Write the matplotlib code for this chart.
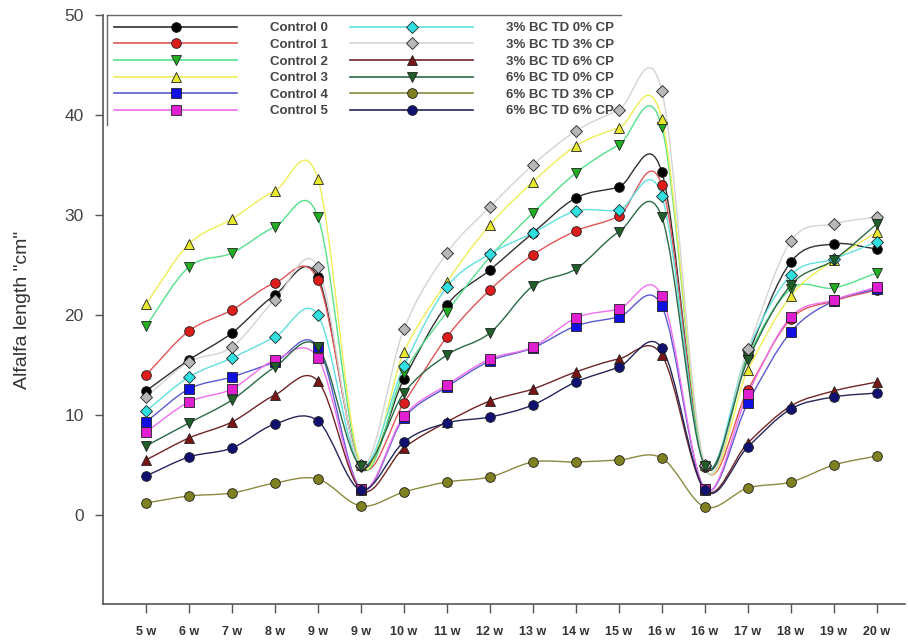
import numpy as np
import matplotlib
matplotlib.use('Agg')
import matplotlib.pyplot as plt
from matplotlib.path import Path
from matplotlib.patches import PathPatch
from matplotlib.lines import Line2D

plt.rcParams['font.family'] = ['Liberation Sans', 'DejaVu Sans']

# weeks (two sampling series, hence repeated 9 w and 16 w)
weeks = ['5 w', '6 w', '7 w', '8 w', '9 w', '9 w', '10 w', '11 w', '12 w', '13 w',
         '14 w', '15 w', '16 w', '16 w', '17 w', '18 w', '19 w', '20 w']

control0 = [12.4, 15.5, 18.2, 22.0, 23.8, 5.0, 13.6, 21.0, 24.5, 28.2, 31.7, 32.8, 34.3, 5.0, 16.0, 25.3, 27.1, 26.6]
control1 = [14.0, 18.4, 20.5, 23.2, 23.5, 4.9, 11.2, 17.8, 22.5, 26.0, 28.4, 29.9, 33.0, 4.8, 12.5, 19.6, 21.4, 22.5]
control2 = [18.9, 24.8, 26.2, 28.8, 29.8, 4.9, 14.2, 20.3, 25.8, 30.2, 34.2, 37.0, 38.8, 4.8, 15.8, 22.6, 22.7, 24.2]
control3 = [21.1, 27.1, 29.6, 32.4, 33.6, 5.0, 16.3, 23.3, 29.0, 33.3, 36.9, 38.7, 39.6, 5.0, 14.5, 21.9, 25.5, 28.3]
control4 = [9.3, 12.6, 13.8, 15.3, 16.8, 2.6, 9.7, 12.8, 15.4, 16.7, 18.9, 19.8, 20.9, 2.6, 11.2, 18.3, 21.4, 22.6]
control5 = [8.3, 11.3, 12.6, 15.5, 15.7, 2.6, 9.9, 13.0, 15.6, 16.8, 19.7, 20.6, 21.9, 2.6, 12.1, 19.8, 21.5, 22.8]
bc3_cp0 = [10.4, 13.8, 15.7, 17.8, 20.0, 4.9, 14.9, 22.8, 26.1, 28.2, 30.4, 30.5, 31.9, 4.9, 16.5, 24.0, 25.6, 27.3]
bc3_cp3 = [11.8, 15.3, 16.8, 21.5, 24.8, 5.0, 18.6, 26.2, 30.8, 35.0, 38.4, 40.5, 42.4, 5.0, 16.6, 27.4, 29.1, 29.8]
bc3_cp6 = [5.5, 7.7, 9.3, 12.0, 13.4, 2.5, 6.7, 9.3, 11.4, 12.6, 14.3, 15.6, 16.0, 2.5, 7.2, 10.9, 12.4, 13.3]
bc6_cp0 = [6.9, 9.2, 11.5, 14.8, 16.8, 4.9, 12.2, 16.0, 18.2, 22.9, 24.6, 28.3, 29.8, 4.9, 15.5, 23.0, 25.5, 29.1]
bc6_cp3 = [1.2, 1.9, 2.2, 3.2, 3.6, 0.9, 2.3, 3.3, 3.8, 5.3, 5.3, 5.5, 5.7, 0.8, 2.7, 3.3, 5.0, 5.9]
bc6_cp6 = [3.9, 5.8, 6.7, 9.1, 9.4, 2.5, 7.3, 9.2, 9.8, 11.0, 13.3, 14.8, 16.7, 2.5, 6.8, 10.6, 11.8, 12.2]

labels = ['Control 0', 'Control 1', 'Control 2', 'Control 3', 'Control 4', 'Control 5',
          '3% BC TD 0% CP', '3% BC TD 3% CP', '3% BC TD 6% CP',
          '6% BC TD 0% CP', '6% BC TD 3% CP', '6% BC TD 6% CP']
series = [control0, control1, control2, control3, control4, control5,
          bc3_cp0, bc3_cp3, bc3_cp6, bc6_cp0, bc6_cp3, bc6_cp6]

# (line colour, marker, marker face)
styles = [
    ('#303030', 'o', '#000000'),
    ('#e05555', 'o', '#dd1c1c'),
    ('#55e08a', 'v', '#22b022'),
    ('#eeee55', '^', '#e8e830'),
    ('#5a5ad0', 's', '#1010e0'),
    ('#ee70ee', 's', '#e020d0'),
    ('#60e0e0', 'D', '#30e0e0'),
    ('#d4d4d4', 'D', '#b8b8b8'),
    ('#702525', '^', '#7a1515'),
    ('#2a6a45', 'v', '#1f5f2a'),
    ('#8a8a40', 'o', '#808020'),
    ('#25255a', 'o', '#101070'),
]


def smooth_path(x, y):
    # Catmull-Rom style cubic Bezier through the data points
    n = len(x)
    slopes = []
    for i in range(n):
        if i == 0:
            slopes.append(y[1] - y[0])
        elif i == n - 1:
            slopes.append(y[-1] - y[-2])
        else:
            slopes.append((y[i + 1] - y[i - 1]) / 2.0)
    verts = [(x[0], y[0])]
    codes = [Path.MOVETO]
    for i in range(n - 1):
        verts += [(x[i] + 1 / 3, y[i] + slopes[i] / 3),
                  (x[i + 1] - 1 / 3, y[i + 1] - slopes[i + 1] / 3),
                  (x[i + 1], y[i + 1])]
        codes += [Path.CURVE4] * 3
    return Path(verts, codes)


fig = plt.figure(figsize=(9.08, 6.41), dpi=100)
ax = fig.add_axes([0.1134, 0.0577, 0.883, 0.919])

x = np.arange(len(weeks))
handles = []
for vals, lab, (lc, mk, mf) in zip(series, labels, styles):
    ax.add_patch(PathPatch(smooth_path(x, vals), facecolor='none', edgecolor=lc, lw=1.0, zorder=2))
    ms = 6.5 if mk == 'D' else 7
    ax.plot(x, vals, linestyle='none', marker=mk, ms=ms, mfc=mf, mec='#202020', mew=0.6, zorder=3)
    handles.append(Line2D([0], [0], color=lc, lw=1.2, marker=mk, ms=ms, mfc=mf, mec='#202020', mew=0.6))

ax.set_xlim(-1, 17.65)
ax.set_ylim(-8.9, 50)
ax.set_xticks(x)
ax.set_xticklabels(weeks, fontsize=9, fontweight='bold', color='#333333')
ax.set_yticks([0, 10, 20, 30, 40, 50])
ax.tick_params(axis='y', labelsize=12.5, labelcolor='#444444', length=6, width=1, color='#555555', pad=8)
ax.tick_params(axis='x', length=6.5, width=1, color='#555555', pad=9)
for s in ['top', 'right']:
    ax.spines[s].set_visible(False)
for s in ['left', 'bottom']:
    ax.spines[s].set_color('#555555')
    ax.spines[s].set_linewidth(1.2)

ax.set_ylabel('Alfalfa length "cm"', fontsize=14, color='#333333', labelpad=24)

leg = ax.legend(handles, labels, ncol=2, loc='upper left', bbox_to_anchor=(0.005, 1.0),
                borderaxespad=0, frameon=False, handlelength=9.3, handletextpad=2.5,
                columnspacing=1.7, labelspacing=0.33, borderpad=0.55,
                prop={'size': 9.5, 'weight': 'bold'})
for t in leg.get_texts():
    t.set_color('#444444')

# partial legend frame (top and left edges only), as in the original
fig.canvas.draw()
bb = leg.get_window_extent().transformed(fig.transFigure.inverted())
fig.add_artist(Line2D([bb.x0, bb.x1], [bb.y1, bb.y1], color='#666666', lw=1))
fig.add_artist(Line2D([bb.x0, bb.x0], [bb.y0, bb.y1], color='#666666', lw=1))

fig.savefig('out.png', dpi=100)
